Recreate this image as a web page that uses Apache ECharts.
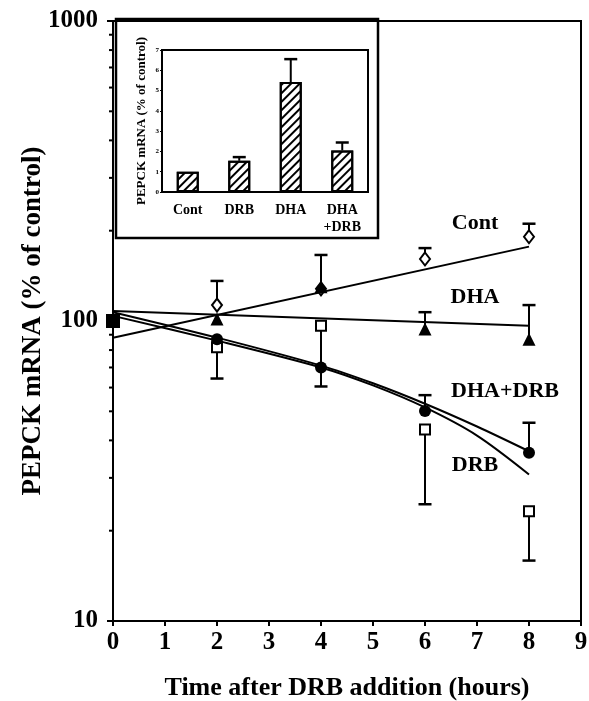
<!DOCTYPE html>
<html>
<head>
<meta charset="utf-8">
<script src="https://cdn.jsdelivr.net/npm/echarts@6/dist/echarts.min.js"></script>
<style>
html,body{margin:0;padding:0;background:#fff;}
#chart{width:589px;height:701px;}
</style>
</head>
<body>
<div id="chart"></div>
<script>
// ---- main chart data ----
const times = [0, 2, 4, 6, 8];
const contValues = [100, 113, 128, 161, 191];
const contErrTop = [null, 136, null, 175, 211];
const dhaValues = [100, 101.5, 130, 94, 87];
const dhaErrTop = [null, null, 166, 107, 113];
const drbValues = [100, 81.7, 96.4, 43.5, 23.2];
const drbErrLow = [null, 64.3, 60.5, 24.5, 15.9];
const dhaDrbValues = [100, 87, 70, 50.1, 36.4];
const dhaDrbErrTop = [null, null, null, 56.6, 45.8];

// fitted curves
const lineTimes = [0, 8];
const contFit = [88, 177];
const dhaFit = [108, 96.4];
const curveTimes = [0, 2, 4, 5, 6, 7, 8];
const dhaDrbFit = [107, 88, 71, 62, 53, 44.5, 36.8];
const drbFit = [104, 86, 70, 61, 51.5, 41.5, 30.8];

const yMinorTicks = [20, 30, 40, 50, 60, 70, 80, 90, 200, 300, 400, 500, 600, 700, 800, 900];
const curveLabels = ['Cont', 'DHA', 'DHA+DRB', 'DRB'];

// ---- inset data ----
const insetCategories = ['Cont', 'DRB', 'DHA', 'DHA\n+DRB'];
const insetValues = [1.0, 1.54, 5.42, 2.05];
const insetErrTop = [null, 1.72, 6.55, 2.44];

const FONT = 'Liberation Serif';

function pairs(xs, ys) { return xs.map((x, i) => [x, ys[i]]); }
function errData(xs, ys, es) {
  const out = [];
  xs.forEach((x, i) => { if (es[i] != null) out.push([x, ys[i], es[i]]); });
  return out;
}
function markerData(xs, ys) {
  return xs.map((x, i) => {
    if (x === 0) return { value: [x, ys[i]], symbol: 'rect', symbolSize: 12, itemStyle: { color: '#000', borderColor: '#000' } };
    return [x, ys[i]];
  });
}
function errRender(params, api) {
  const x = api.value(0), y = api.value(1), e = api.value(2);
  const p1 = api.coord([x, y]);
  const p2 = api.coord([x, e]);
  const cap = 6.5;
  return {
    type: 'group',
    children: [
      { type: 'line', shape: { x1: p1[0], y1: p1[1], x2: p2[0], y2: p2[1] }, style: { stroke: '#000', lineWidth: 2 } },
      { type: 'line', shape: { x1: p2[0] - cap, y1: p2[1], x2: p2[0] + cap, y2: p2[1] }, style: { stroke: '#000', lineWidth: 2.5 } }
    ]
  };
}
function minorTickRender(params, api) {
  const p = api.coord([api.value(0), api.value(1)]);
  return { type: 'line', shape: { x1: p[0] - 4, y1: p[1], x2: p[0] + 1, y2: p[1] }, style: { stroke: '#000', lineWidth: 2 } };
}

const chart = echarts.init(document.getElementById('chart'), null, { renderer: 'canvas' });

const option = {
  backgroundColor: '#fff',
  animation: false,
  textStyle: { fontFamily: FONT },
  grid: [
    { left: 113, right: 8, top: 21, bottom: 80, show: true, borderColor: '#000', borderWidth: 2, backgroundColor: 'transparent', containLabel: false, outerBoundsMode: 'none' },
    { left: 162, top: 50, width: 206, height: 142, show: true, borderColor: '#000', borderWidth: 2, backgroundColor: 'transparent', containLabel: false, outerBoundsMode: 'none' }
  ],
  xAxis: [
    {
      gridIndex: 0, type: 'value', min: 0, max: 9, interval: 1,
      name: 'Time after DRB addition (hours)', nameLocation: 'middle', nameGap: 54, nameMoveOverlap: false,
      nameTextStyle: { fontFamily: FONT, fontWeight: 'bold', fontSize: 26, color: '#000' },
      axisLine: { lineStyle: { color: '#000', width: 2 } },
      axisTick: { show: true, length: 5, lineStyle: { color: '#000', width: 2 } },
      axisLabel: { margin: 9, fontFamily: FONT, fontWeight: 'bold', fontSize: 25, color: '#000' },
      splitLine: { show: false }
    },
    {
      gridIndex: 1, type: 'category', data: insetCategories,
      axisLine: { lineStyle: { color: '#000', width: 2 } },
      axisTick: { show: false },
      axisLabel: { margin: 10, fontFamily: FONT, fontWeight: 'bold', fontSize: 14, color: '#000', lineHeight: 17 },
      splitLine: { show: false }
    }
  ],
  yAxis: [
    {
      gridIndex: 0, type: 'log', logBase: 10, min: 10, max: 1000, splitNumber: 2,
      name: 'PEPCK mRNA (% of control)', nameLocation: 'middle', nameGap: 66, nameRotate: 90, nameMoveOverlap: false,
      nameTextStyle: { fontFamily: FONT, fontWeight: 'bold', fontSize: 27, color: '#000' },
      axisLine: { show: true, lineStyle: { color: '#000', width: 2 } },
      axisTick: { show: true, length: 6, lineStyle: { color: '#000', width: 2 } },
      axisLabel: { margin: 15, fontFamily: FONT, fontWeight: 'bold', fontSize: 25, color: '#000', formatter: v => String(Math.round(v)) },
      splitLine: { show: false }
    },
    {
      gridIndex: 1, type: 'value', min: 0, max: 7, interval: 1,
      name: 'PEPCK mRNA (% of control)', nameLocation: 'middle', nameGap: 14, nameRotate: 90,
      nameTextStyle: { fontFamily: FONT, fontWeight: 'bold', fontSize: 13, color: '#000' },
      axisLine: { show: true, lineStyle: { color: '#000', width: 2 } },
      axisTick: { show: true, length: 2, lineStyle: { color: '#000', width: 1 } },
      axisLabel: { margin: 3, fontFamily: FONT, fontWeight: 'bold', fontSize: 7, color: '#000' },
      splitLine: { show: false }
    }
  ],
  graphic: [
    { type: 'rect', z: 0, shape: { x: 116, y: 19, width: 262, height: 219 }, style: { fill: 'none', stroke: '#000', lineWidth: 2.5 } },
    { type: 'text', z: 10, x: 475, y: 223, style: { text: curveLabels[0], font: 'bold 22px "Liberation Serif"', fill: '#000', align: 'center', verticalAlign: 'middle' } },
    { type: 'text', z: 10, x: 475, y: 297, style: { text: curveLabels[1], font: 'bold 22px "Liberation Serif"', fill: '#000', align: 'center', verticalAlign: 'middle' } },
    { type: 'text', z: 10, x: 505, y: 391, style: { text: curveLabels[2], font: 'bold 22px "Liberation Serif"', fill: '#000', align: 'center', verticalAlign: 'middle' } },
    { type: 'text', z: 10, x: 475, y: 465, style: { text: curveLabels[3], font: 'bold 22px "Liberation Serif"', fill: '#000', align: 'center', verticalAlign: 'middle' } }
  ],
  series: [
    { type: 'custom', xAxisIndex: 0, yAxisIndex: 0, clip: false, silent: true, z: 3,
      data: yMinorTicks.map(v => [0, v]), renderItem: minorTickRender },
    { type: 'line', xAxisIndex: 0, yAxisIndex: 0, data: pairs(lineTimes, contFit), symbol: 'none', lineStyle: { color: '#000', width: 2 }, z: 2 },
    { type: 'line', xAxisIndex: 0, yAxisIndex: 0, data: pairs(lineTimes, dhaFit), symbol: 'none', lineStyle: { color: '#000', width: 2 }, z: 2 },
    { type: 'line', xAxisIndex: 0, yAxisIndex: 0, data: pairs(curveTimes, dhaDrbFit), symbol: 'none', smooth: 0.3, lineStyle: { color: '#000', width: 2 }, z: 2 },
    { type: 'line', xAxisIndex: 0, yAxisIndex: 0, data: pairs(curveTimes, drbFit), symbol: 'none', smooth: 0.3, lineStyle: { color: '#000', width: 2 }, z: 2 },
    { type: 'custom', xAxisIndex: 0, yAxisIndex: 0, z: 3, data: errData(times, contValues, contErrTop), renderItem: errRender },
    { type: 'custom', xAxisIndex: 0, yAxisIndex: 0, z: 3, data: errData(times, dhaValues, dhaErrTop), renderItem: errRender },
    { type: 'custom', xAxisIndex: 0, yAxisIndex: 0, z: 3, data: errData(times, drbValues, drbErrLow), renderItem: errRender },
    { type: 'custom', xAxisIndex: 0, yAxisIndex: 0, z: 3, data: errData(times, dhaDrbValues, dhaDrbErrTop), renderItem: errRender },
    { name: 'Cont', type: 'scatter', xAxisIndex: 0, yAxisIndex: 0, z: 4, data: markerData(times, contValues),
      symbol: 'diamond', symbolSize: [10, 13], itemStyle: { color: '#fff', borderColor: '#000', borderWidth: 2, opacity: 1 } },
    { name: 'DRB', type: 'scatter', xAxisIndex: 0, yAxisIndex: 0, z: 4, data: markerData(times, drbValues),
      symbol: 'rect', symbolSize: 10, itemStyle: { color: '#fff', borderColor: '#000', borderWidth: 2, opacity: 1 } },
    { name: 'DHA', type: 'scatter', xAxisIndex: 0, yAxisIndex: 0, z: 5, data: markerData(times, dhaValues),
      symbol: 'triangle', symbolSize: 13, itemStyle: { color: '#000', opacity: 1 } },
    { name: 'DHA+DRB', type: 'scatter', xAxisIndex: 0, yAxisIndex: 0, z: 5, data: markerData(times, dhaDrbValues),
      symbol: 'circle', symbolSize: 12, itemStyle: { color: '#000', opacity: 1 } },
    { type: 'custom', xAxisIndex: 1, yAxisIndex: 1, z: 2,
      data: insetErrTop.map((e, i) => e == null ? null : [i, insetValues[i], e]).filter(d => d),
      renderItem: errRender },
    { type: 'bar', xAxisIndex: 1, yAxisIndex: 1, z: 3, data: insetValues, barWidth: 22,
      itemStyle: {
        color: '#fff', borderColor: '#000', borderWidth: 2,
        decal: { symbol: 'rect', symbolSize: 1, color: '#000', dashArrayX: [1, 0], dashArrayY: [1.5, 3.5], rotation: -Math.PI / 4 }
      } }
  ]
};
chart.setOption(option);
</script>
</body>
</html>
